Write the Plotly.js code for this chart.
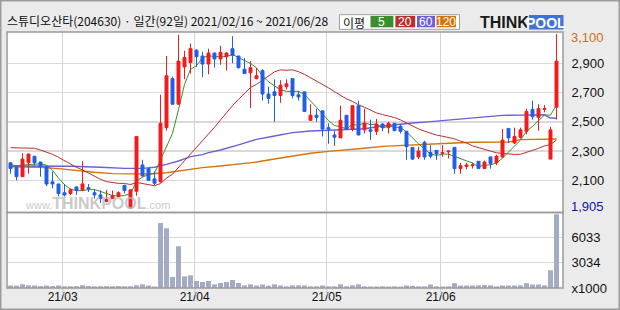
<!DOCTYPE html>
<html><head><meta charset="utf-8">
<script src="https://cdn.plot.ly/plotly-3.0.1.min.js"></script>
<style>html,body{margin:0;padding:0;background:#ebebeb;} #chart{width:620px;height:310px;}</style>
</head><body><div id="chart"></div>
<script>
// ---- data ----
const dates = [
'2021-02-16','2021-02-17','2021-02-18','2021-02-19','2021-02-22','2021-02-23','2021-02-24','2021-02-25','2021-02-26',
'2021-03-02','2021-03-03','2021-03-04','2021-03-05','2021-03-08','2021-03-09','2021-03-10','2021-03-11','2021-03-12',
'2021-03-15','2021-03-16','2021-03-17','2021-03-18','2021-03-19','2021-03-22','2021-03-23','2021-03-24','2021-03-25',
'2021-03-26','2021-03-29','2021-03-30','2021-03-31',
'2021-04-01','2021-04-02','2021-04-05','2021-04-06','2021-04-07','2021-04-08','2021-04-09','2021-04-12','2021-04-13',
'2021-04-14','2021-04-15','2021-04-16','2021-04-19','2021-04-20','2021-04-21','2021-04-22','2021-04-23','2021-04-26',
'2021-04-27','2021-04-28','2021-04-29','2021-04-30',
'2021-05-03','2021-05-04','2021-05-06','2021-05-07','2021-05-10','2021-05-11','2021-05-12','2021-05-13','2021-05-14',
'2021-05-17','2021-05-18','2021-05-20','2021-05-21','2021-05-24','2021-05-25','2021-05-26','2021-05-27','2021-05-28',
'2021-05-31',
'2021-06-01','2021-06-02','2021-06-03','2021-06-04','2021-06-07','2021-06-08','2021-06-09','2021-06-10','2021-06-11',
'2021-06-14','2021-06-15','2021-06-16','2021-06-17','2021-06-18','2021-06-21','2021-06-22','2021-06-23','2021-06-24',
'2021-06-25','2021-06-28'];

const openP  = [2220,2190,2125,2220,2265,2225,2195,2090,2075,2015,2010,2055,2035,2050,2015,2000,1955,1975,1990,2065,
                1910,2025,2205,2180,2110,2090,2460,2795,2620,2875,2905,2990,2950,2895,2970,2930,2945,3000,2950,2860,
                2835,2795,2850,2690,2705,2680,2740,2795,2685,2705,2510,2545,2575,2460,2410,2390,2545,2450,2610,2445,
                2445,2435,2485,2460,2490,2470,2435,2325,2260,2360,2290,2305,2285,2295,2325,2180,2195,2200,2230,2180,
                2260,2220,2260,2455,2355,2395,2435,2585,2530,2585,2245,2600];
const highP  = [2225,2200,2285,2280,2265,2225,2195,2160,2075,2075,2045,2055,2230,2075,2040,2030,2035,2030,2025,2070,
                2035,2400,2240,2185,2160,2685,2950,2810,3095,2985,3035,2995,2980,3000,2975,3020,2975,3085,2950,2935,
                2915,2870,2860,2740,2790,2785,2790,2795,2710,2705,2620,2590,2575,2490,2440,2610,2545,2615,2645,2590,
                2515,2520,2490,2500,2490,2480,2435,2325,2330,2370,2340,2305,2340,2300,2325,2220,2220,2220,2230,2235,
                2260,2275,2450,2455,2460,2460,2590,2645,2620,2615,2465,3100];
const lowP   = [2145,2100,2125,2145,2200,2125,2060,2045,1990,1990,2000,2000,2025,2020,1975,1945,1950,1975,1990,2010,
                1905,1995,2125,2100,2065,2085,2440,2620,2620,2790,2830,2875,2805,2825,2870,2890,2850,2900,2865,2830,
                2595,2790,2645,2625,2500,2630,2720,2660,2645,2570,2510,2500,2400,2350,2335,2390,2450,2435,2410,2420,
                2375,2410,2435,2420,2435,2420,2240,2240,2245,2240,2250,2240,2260,2250,2145,2145,2175,2180,2180,2180,
                2180,2205,2255,2355,2350,2385,2415,2515,2440,2565,2245,2515];
const closeP = [2180,2125,2245,2280,2220,2195,2075,2075,2010,2000,2035,2030,2075,2040,2000,1975,1970,1995,2015,2030,
                2035,2400,2130,2100,2080,2490,2815,2620,2915,2940,3000,2945,2895,2970,2930,2975,2970,2955,2870,2830,
                2870,2815,2690,2660,2680,2750,2760,2680,2670,2570,2545,2530,2450,2450,2395,2510,2450,2610,2410,2490,
                2435,2485,2460,2490,2440,2435,2330,2245,2300,2260,2265,2280,2290,2300,2180,2200,2205,2205,2180,2225,
                2215,2265,2375,2390,2400,2445,2570,2535,2590,2590,2445,2915];
// volume, thousands of shares
const volume = [300,280,450,330,300,230,290,230,300,200,210,220,330,230,200,210,220,200,230,210,
                210,320,440,300,180,7800,7160,1320,5000,1400,1520,840,720,840,440,600,720,960,600,320,
                440,300,420,280,440,300,200,320,320,300,200,200,300,200,200,440,200,320,440,200,
                180,180,200,180,200,180,300,260,200,200,420,200,180,200,580,300,300,300,320,360,
                320,200,300,300,300,320,580,420,420,320,2120,8840];

// moving averages read where the window starts before the chart
const ma5Head  = [2205,2200,2205,2210];
const ma20Head = [2323,2323,2321,2323,2319,2307,2294,2278,2257,2234,2212,2189,2171,2148,2125,2107,2091,2084,2079];
const ma60Idx  = [0,5,10,15,19,22,24,26,28,30,32,33,35,38,41,44,47,50,53,56,59,62,65,67,70,73,76,79,82,85,88,89,90,91];
const ma60Val  = [2198,2198,2196,2189,2182,2182,2189,2209,2232,2262,2276,2289,2307,2342,2380,2403,2426,2437,2442,2444,
                  2453,2471,2485,2492,2501,2513,2522,2535,2544,2546,2551,2548,2526,2524];
const ma120Idx = [0,5,8,11,14,17,20,23,26,29,32,35,38,41,44,47,50,53,56,59,62,65,68,71,74,77,80,83,85,89,91];
const ma120Val = [2193,2189,2180,2166,2155,2146,2143,2143,2152,2171,2187,2198,2209,2225,2246,2266,2285,2298,2307,2319,
                  2332,2339,2346,2350,2355,2360,2360,2362,2378,2380,2383];

const priceTicks = [2100,2300,2500,2700,2900];
const priceTickText = ['2,100','2,300','2,500','2,700','2,900'];
const maxLabel = '3,100', maxValue = 3100;
const minLabel = '1,905', minValue = 1905;
const volTicks = [0,3034,6033];
const volTickText = ['x1000','3034','6033'];
const monthStarts = ['2021-03-02','2021-04-01','2021-05-03','2021-06-01'];
const monthText = ['21/03','21/04','21/05','21/06'];
const titleText = '스튜디오산타(204630) · 일간(92일) 2021/02/16 ~ 2021/06/28';
const maNames = ['5','20','60','120'];

// ---- derived ----
const idx = dates.map((d,i)=>i);
function movingAvg(n, head){
  return closeP.map((c,i)=>{
    if(i < n-1) return head[i];
    let s=0; for(let k=i-n+1;k<=i;k++) s+=closeP[k];
    return s/n;
  });
}
const ma5 = movingAvg(5, ma5Head);
const ma20 = movingAvg(20, ma20Head);

const C_UP='#f21b1b', C_DN='#1f5fe6';
const C5='#3b8e2d', C20='#b8302c', C60='#6a5fd8', C120='#d6730c';

// pixel helpers for decorations outside the plot
const L=7, R=563, T=32, B=288;
const px2x = p => (p-L)/(R-L);
const py2y = p => (B-p)/(B-T);
const splitY = py2y(212.5);
const fontNum = 'Liberation Sans, Arial, sans-serif';
const fontKr = 'Noto Sans CJK KR, sans-serif';

const traces = [
  {type:'scatter', mode:'lines', x:ma120Idx, y:ma120Val, xaxis:'x', yaxis:'y', line:{color:C120,width:1.4}, hoverinfo:'skip'},
  {type:'scatter', mode:'lines', x:ma60Idx, y:ma60Val, xaxis:'x', yaxis:'y', line:{color:C60,width:1.4}, hoverinfo:'skip'},
  {type:'scatter', mode:'lines', x:idx, y:ma20, xaxis:'x', yaxis:'y', line:{color:C20,width:1}, hoverinfo:'skip'},
  {type:'scatter', mode:'lines', x:idx, y:ma5, xaxis:'x', yaxis:'y', line:{color:C5,width:1}, hoverinfo:'skip'},
  {type:'candlestick', x:idx, open:openP, high:highP, low:lowP, close:closeP, xaxis:'x', yaxis:'y3',
   increasing:{line:{color:C_UP,width:1}, fillcolor:C_UP},
   decreasing:{line:{color:C_DN,width:1}, fillcolor:C_DN},
   whiskerwidth:0, hoverinfo:'skip'},
  {type:'bar', x:idx, y:volume, xaxis:'x', yaxis:'y2', marker:{color:'#a3acc4', line:{width:0}}, hoverinfo:'skip'}
];

const monthIdx = monthStarts.map(d=>dates.indexOf(d)-0.3);

const shapes = [];
// vertical grid extension below the volume panel
monthIdx.forEach(m=>{
  const px = L + (m+0.583)*(R-L)/92.667;
  shapes.push({type:'line', xref:'paper', yref:'paper', x0:px2x(px), x1:px2x(px), y0:py2y(295), y1:0,
               line:{color:'#d4d4d4', width:1.5}, layer:'above'});
});
// panel borders
shapes.push({type:'rect', xref:'paper', yref:'paper', x0:0, x1:1, y0:splitY, y1:1, line:{color:'#9a9a9a', width:1.5}});
shapes.push({type:'rect', xref:'paper', yref:'paper', x0:0, x1:1, y0:0, y1:splitY, line:{color:'#9a9a9a', width:1.5}});
// outer frame
shapes.push({type:'rect', xref:'paper', yref:'paper', x0:px2x(0.75), x1:px2x(619.25), y0:py2y(309.25), y1:py2y(0.75),
             line:{color:'#9c9c9c', width:1.5}});
// MA legend box
shapes.push({type:'rect', xref:'paper', yref:'paper', x0:px2x(339.5), x1:px2x(459.5), y0:py2y(29.3), y1:py2y(14.7),
             line:{color:'#a0a0a0', width:1}, fillcolor:'#ffffff'});
const legBoxes = [[370.5,393.4,C5],[395.4,415.2,C20],[417,435,C60],[436.5,456,C120]];
legBoxes.forEach(b=>shapes.push({type:'rect', xref:'paper', yref:'paper', x0:px2x(b[0]), x1:px2x(b[1]),
  y0:py2y(27.3), y1:py2y(15.9), line:{width:0}, fillcolor:b[2]}));
// logo POOL block
shapes.push({type:'rect', xref:'paper', yref:'paper', x0:px2x(529), x1:px2x(563.5), y0:py2y(29.5), y1:py2y(15),
             line:{width:0}, fillcolor:'#3f74d6'});

const annotations = [
  {xref:'paper', yref:'y', x:1, y:maxValue, xanchor:'left', yanchor:'middle', xshift:6, yshift:-3.5, showarrow:false,
   text:maxLabel, font:{family:fontNum, size:13, color:'#d2700f'}},
  {xref:'paper', yref:'y', x:1, y:minValue, xanchor:'left', yanchor:'middle', xshift:6, yshift:2, showarrow:false,
   text:minLabel, font:{family:fontNum, size:13, color:'#1414b4'}},
  {xref:'paper', yref:'paper', x:px2x(353.5), y:py2y(22), xanchor:'center', yanchor:'middle', showarrow:false,
   text:'이평', font:{family:fontKr, size:12, color:'#111'}},
  {xref:'paper', yref:'paper', x:px2x(504), y:py2y(22.5), xanchor:'center', yanchor:'middle', showarrow:false,
   text:'<b>THINK</b>', font:{family:fontNum, size:16, color:'#1a1a1a'}},
  {xref:'paper', yref:'paper', x:px2x(546.2), y:py2y(22.5), xanchor:'center', yanchor:'middle', showarrow:false,
   text:'<b>POOL</b>', font:{family:fontNum, size:14, color:'#ffffff'}},
  {xref:'paper', yref:'paper', x:px2x(23), y:py2y(203), xanchor:'left', yanchor:'middle', showarrow:false, opacity:0.75,
   text:'<span style="font-size:11px">www.</span><b>THINKPOOL</b><span style="font-size:11px">.com</span>',
   font:{family:fontNum, size:16, color:'#b8b8b8'}}
];
const legCenters = [381.9,405.3,426,446.2];
maNames.forEach((n,i)=>annotations.push({xref:'paper', yref:'paper', x:px2x(legCenters[i]), y:py2y(21.8),
  xanchor:'center', yanchor:'middle', showarrow:false, text:n, font:{family:fontNum, size:12, color:'#ffffff'}}));

const axNum = {family:fontNum, size:13, color:'#111'};
const layout = {
  width:620, height:310,
  margin:{l:L, r:620-R, t:T, b:310-B, pad:0},
  paper_bgcolor:'#ebebeb', plot_bgcolor:'#ffffff',
  showlegend:false, boxgap:0.3, bargap:0.17,
  title:{text:titleText, x:7/620, xanchor:'left', y:1-22/310, yanchor:'middle',
         font:{family:fontKr, size:12, color:'#111'}},
  xaxis:{type:'linear', range:[-0.583, 92.083], anchor:'y2', tickvals:monthIdx, ticktext:monthText,
         showgrid:true, gridcolor:'#d4d4d4', gridwidth:1.5, zeroline:false, showline:false,
         ticks:'', ticklen:0, tickfont:{family:fontNum, size:12, color:'#111'},
         rangeslider:{visible:false}, fixedrange:true},
  yaxis:{domain:[splitY,1], range:[1880,3114], side:'right', anchor:'x', tickvals:priceTicks, ticktext:priceTickText,
         showgrid:true, gridcolor:'#d9d9d9', gridwidth:1.5, zeroline:false, showline:false,
         ticks:'outside', ticklen:5, tickcolor:'rgba(0,0,0,0)', tickfont:axNum, fixedrange:true},
  yaxis3:{overlaying:'y', range:[1880,3114], side:'right', anchor:'x', showgrid:false, zeroline:false,
          showticklabels:false, fixedrange:true},
  yaxis2:{domain:[0,splitY], range:[0,9060], side:'right', anchor:'x', tickvals:volTicks, ticktext:volTickText,
          showgrid:true, gridcolor:'#d9d9d9', gridwidth:1.5, zeroline:false, showline:false,
          ticks:'outside', ticklen:5, tickcolor:'rgba(0,0,0,0)', tickfont:axNum, fixedrange:true},
  shapes:shapes, annotations:annotations
};
Plotly.newPlot('chart', traces, layout, {displayModeBar:false, staticPlot:true});
</script></body></html>
